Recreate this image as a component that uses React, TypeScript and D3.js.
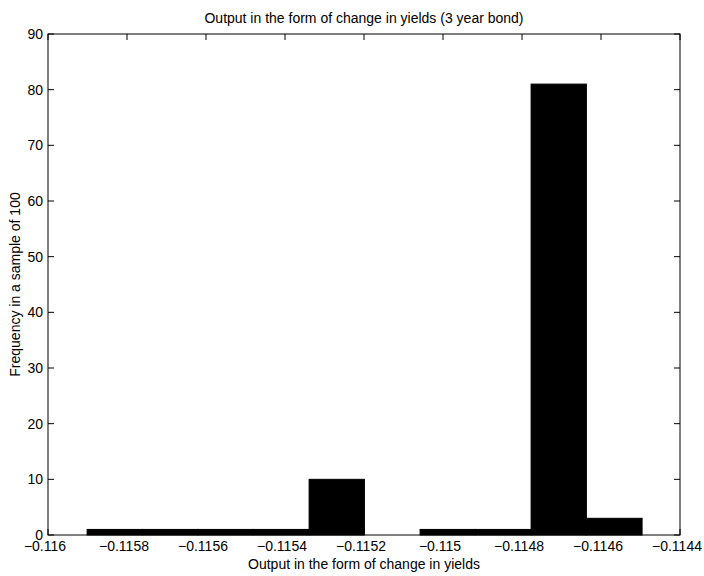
import React from "react";
import * as d3 from "d3";

// Histogram bin edges (10 bins) and counts
const binEdges = [
  -0.115901, -0.115761, -0.11562, -0.11548, -0.115339, -0.115199,
  -0.115058, -0.114918, -0.114777, -0.114637, -0.114496,
];
const counts = [1, 1, 1, 1, 10, 0, 1, 1, 81, 3];

const xTicks = [-0.116, -0.1158, -0.1156, -0.1154, -0.1152, -0.115, -0.1148, -0.1146, -0.1144];
const xTickLabels = ["−0.116", "−0.1158", "−0.1156", "−0.1154", "−0.1152", "−0.115", "−0.1148", "−0.1146", "−0.1144"];
const yTicks = [0, 10, 20, 30, 40, 50, 60, 70, 80, 90];

const title = "Output in the form of change in yields (3 year bond)";
const xLabel = "Output in the form of change in yields";
const yLabel = "Frequency in a sample of 100";

const W = 704;
const H = 576;
const left = 48;
const right = 680;
const top = 34;
const bottom = 535;
const tickLen = 6;
const font = "'Liberation Sans', Arial, Helvetica, sans-serif";

export default function App() {
  const x = d3.scaleLinear().domain([-0.116, -0.1144]).range([left, right]);
  const y = d3.scaleLinear().domain([0, 90]).range([bottom, top]);

  const bins = counts.map((c, i) => ({ x0: binEdges[i], x1: binEdges[i + 1], c }));

  return (
    <svg
      width={W}
      height={H}
      style={{ position: "absolute", left: 0, top: 0, background: "#fff" }}
      fontFamily={font}
    >
      <rect x={0} y={0} width={W} height={H} fill="#fff" />
      {/* bars */}
      {bins.map((b, i) =>
        b.c > 0 ? (
          <rect
            key={i}
            x={x(b.x0)}
            y={y(b.c)}
            width={x(b.x1) - x(b.x0)}
            height={y(0) - y(b.c)}
            fill="#000"
            stroke="#000"
            strokeWidth={1}
          />
        ) : null
      )}
      {/* axes box */}
      <rect x={left} y={top} width={right - left} height={bottom - top} fill="none" stroke="#000" strokeWidth={1} />
      {/* x ticks */}
      {xTicks.map((t, i) => (
        <g key={"xt" + i}>
          <line x1={x(t)} x2={x(t)} y1={bottom} y2={bottom - tickLen} stroke="#000" />
          <line x1={x(t)} x2={x(t)} y1={top} y2={top + tickLen} stroke="#000" />
          <text x={x(t) - 3} y={551} textAnchor="middle" fontSize={14} fill="#000">
            {xTickLabels[i]}
          </text>
        </g>
      ))}
      {/* y ticks */}
      {yTicks.map((t, i) => (
        <g key={"yt" + i}>
          <line x1={left} x2={left + tickLen} y1={y(t)} y2={y(t)} stroke="#000" />
          <line x1={right} x2={right - tickLen} y1={y(t)} y2={y(t)} stroke="#000" />
          <text x={left - 5} y={y(t)} dy="0.35em" textAnchor="end" fontSize={14} fill="#000">
            {t}
          </text>
        </g>
      ))}
      {/* title */}
      <text x={(left + right) / 2} y={23} textAnchor="middle" fontSize={14} fill="#000">
        {title}
      </text>
      {/* x label */}
      <text x={(left + right) / 2} y={569} textAnchor="middle" fontSize={14} fill="#000">
        {xLabel}
      </text>
      {/* y label */}
      <text
        transform={`translate(20,${(top + bottom) / 2}) rotate(-90)`}
        textAnchor="middle"
        fontSize={14}
        fill="#000"
      >
        {yLabel}
      </text>
    </svg>
  );
}
